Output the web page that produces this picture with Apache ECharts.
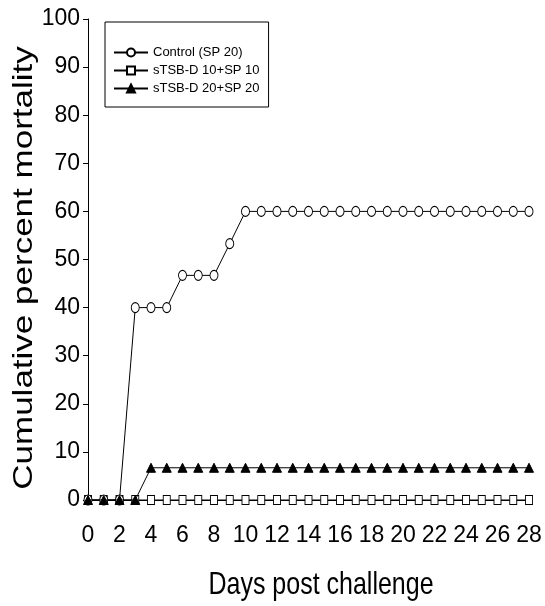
<!DOCTYPE html>
<html>
<head>
<meta charset="utf-8">
<script src="https://cdn.jsdelivr.net/npm/echarts@6/dist/echarts.min.js"></script>
<style>
  html, body { margin: 0; padding: 0; background: #fff; }
  #chart { width: 545px; height: 606px; }
</style>
</head>
<body>
<div id="chart"></div>
<script>
// days post challenge
var days = [0, 1, 2, 3, 4, 5, 6, 7, 8, 9, 10, 11, 12, 13, 14, 15, 16, 17, 18, 19, 20, 21, 22, 23, 24, 25, 26, 27, 28];
var control = [0, 0, 0, 40, 40, 40, 46.7, 46.7, 46.7, 53.3, 60, 60, 60, 60, 60, 60, 60, 60, 60, 60, 60, 60, 60, 60, 60, 60, 60, 60, 60];
var stsb10 = [0, 0, 0, 0, 0, 0, 0, 0, 0, 0, 0, 0, 0, 0, 0, 0, 0, 0, 0, 0, 0, 0, 0, 0, 0, 0, 0, 0, 0];
var stsb20 = [0, 0, 0, 0, 6.7, 6.7, 6.7, 6.7, 6.7, 6.7, 6.7, 6.7, 6.7, 6.7, 6.7, 6.7, 6.7, 6.7, 6.7, 6.7, 6.7, 6.7, 6.7, 6.7, 6.7, 6.7, 6.7, 6.7, 6.7];
var seriesNames = ['Control (SP 20)', 'sTSB-D 10+SP 10', 'sTSB-D 20+SP 20'];
var xTitle = 'Days post challenge';
var yTitle = 'Cumulative percent mortality';

function pairs(ys) {
    return days.map(function (d, i) { return [d, ys[i]]; });
}

var font = '"Liberation Sans", Arial, sans-serif';

var chart = echarts.init(document.getElementById('chart'));
chart.setOption({
    animation: false,
    backgroundColor: '#fff',
    grid: { left: 88, right: 16, top: 19, bottom: 106 },
    legend: {
        data: seriesNames,
        orient: 'vertical',
        left: 105, top: 22,
        borderColor: '#000', borderWidth: 1,
        padding: [24, 9, 12, 8],
        itemWidth: 34, itemHeight: 10, itemGap: 5,
        textStyle: { fontFamily: font, fontSize: 13, color: '#000' }
    },
    // axis titles as scaled text (the source figure is stretched vertically)
    graphic: [
        {
            type: 'text', x: 24, y: 268, rotation: Math.PI / 2, scaleX: 1.25,
            style: { text: yTitle, font: '28px ' + font, fill: '#000', align: 'center', verticalAlign: 'middle' }
        },
        {
            type: 'text', x: 321, y: 586, scaleY: 1.23,
            style: { text: xTitle, font: '25px ' + font, fill: '#000', align: 'center', verticalAlign: 'middle' }
        }
    ],
    xAxis: {
        type: 'value', min: 0, max: 28, interval: 1,
        axisLine: { show: true, lineStyle: { color: '#000', width: 1 } },
        axisTick: { show: true, inside: false, length: 5, lineStyle: { color: '#000' } },
        axisLabel: {
            fontFamily: font, fontSize: 23, color: '#000', margin: 24,
            formatter: function (v) { return v % 2 === 0 ? String(v) : ''; }
        },
        splitLine: { show: false }
    },
    yAxis: {
        type: 'value', min: 0, max: 100, interval: 10,
        axisLine: { show: true, lineStyle: { color: '#000', width: 1 } },
        axisTick: { show: true, inside: false, length: 5, lineStyle: { color: '#000' } },
        axisLabel: { fontFamily: font, fontSize: 23, color: '#000', margin: 8 },
        splitLine: { show: false }
    },
    series: [
        {
            name: seriesNames[0], type: 'line', data: pairs(control),
            symbol: 'circle', symbolSize: [8, 10], showAllSymbol: true,
            lineStyle: { color: '#000', width: 1 },
            itemStyle: { color: '#fff', borderColor: '#000', borderWidth: 1 },
            z: 3
        },
        {
            name: seriesNames[1], type: 'line', data: pairs(stsb10),
            symbol: 'rect', symbolSize: [7, 9], showAllSymbol: true,
            lineStyle: { color: '#000', width: 1 },
            itemStyle: { color: '#fff', borderColor: '#000', borderWidth: 1 },
            z: 2
        },
        {
            name: seriesNames[2], type: 'line', data: pairs(stsb20),
            symbol: 'triangle', symbolSize: [9, 9], showAllSymbol: true,
            lineStyle: { color: '#000', width: 1 },
            itemStyle: { color: '#000', borderColor: '#000', borderWidth: 1 },
            z: 4
        }
    ]
});
</script>
</body>
</html>
